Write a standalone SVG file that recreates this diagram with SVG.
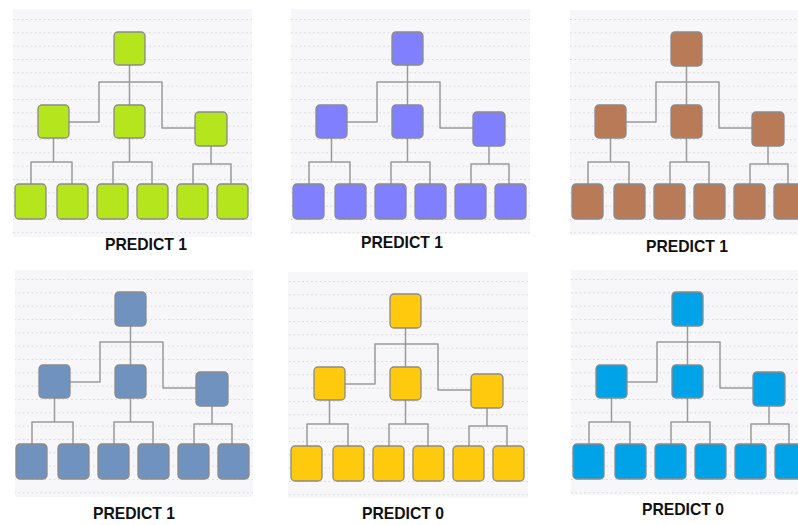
<svg xmlns="http://www.w3.org/2000/svg" xmlns:xlink="http://www.w3.org/1999/xlink" width="798" height="525" viewBox="0 0 798 525">
<style>
.bg{fill:#f7f7f9}
.dots{fill:url(#dotrows)}
.n rect{stroke:#8a8a8a;stroke-width:1.3}
.c{fill:none;stroke:#9a9a9a;stroke-width:1.5;stroke-linejoin:round}
.lbl{font-family:"Liberation Sans",Arial,sans-serif;font-weight:bold;font-size:17px;fill:#111;text-anchor:middle}
.green rect{fill:#b5e61d}
.purple rect{fill:#8080ff}
.brown rect{fill:#b97a57}
.steel rect{fill:#7092be}
.gold rect{fill:#ffc90e}
.cyan rect{fill:#00a2e8}
</style>
<defs>
<pattern id="dotrows" patternUnits="userSpaceOnUse" x="13" y="5.67" width="4.4" height="13.33">
<rect x="0" y="0" width="1.6" height="1" fill="#d6d6db"/>
</pattern>
<g id="connset">
<path d="M129.5 65V105M69 122H99V82H162V128H195"/>
<path d="M53.5 138V162M31 184V162H72V184"/>
<path d="M129.5 138V162M113 184V162H152V184"/>
<path d="M211 146V164M193 184V164H231V184"/>
</g>
</defs>

<!-- Panel 1 -->
<g id="panel1">
<rect class="bg" x="13" y="9" width="239" height="228"/>
<rect class="dots" x="13" y="9" width="239" height="228"/>
<g id="p1-connectors" class="c"><use xlink:href="#connset"/></g>
<g class="n green">
<g id="p1-root"><rect x="114" y="32" width="31" height="33" rx="4"/></g>
<g id="p1-mid1"><rect x="38" y="105" width="31" height="33" rx="4"/></g>
<g id="p1-mid2"><rect x="114" y="105" width="31" height="33" rx="4"/></g>
<g id="p1-mid3"><rect x="195" y="112" width="32" height="34" rx="4"/></g>
<g id="p1-leaf1"><rect x="15" y="184" width="31" height="35" rx="4"/></g>
<g id="p1-leaf2"><rect x="57" y="184" width="31" height="35" rx="4"/></g>
<g id="p1-leaf3"><rect x="97" y="184" width="31" height="35" rx="4"/></g>
<g id="p1-leaf4"><rect x="137" y="184" width="31" height="35" rx="4"/></g>
<g id="p1-leaf5"><rect x="177" y="184" width="31" height="35" rx="4"/></g>
<g id="p1-leaf6"><rect x="217" y="184" width="31" height="35" rx="4"/></g>
</g>
</g>
<text class="lbl" x="146" y="250" textLength="82" lengthAdjust="spacingAndGlyphs">PREDICT 1</text>

<!-- Panel 2 -->
<g id="panel2" transform="translate(278,0)">
<rect class="bg" x="13" y="9" width="239" height="225"/>
<rect class="dots" x="13" y="9" width="239" height="225"/>
<g id="p2-connectors" class="c"><use xlink:href="#connset"/></g>
<g class="n purple">
<g id="p2-root"><rect x="114" y="32" width="31" height="33" rx="4"/></g>
<g id="p2-mid1"><rect x="38" y="105" width="31" height="33" rx="4"/></g>
<g id="p2-mid2"><rect x="114" y="105" width="31" height="33" rx="4"/></g>
<g id="p2-mid3"><rect x="195" y="112" width="32" height="34" rx="4"/></g>
<g id="p2-leaf1"><rect x="15" y="184" width="31" height="35" rx="4"/></g>
<g id="p2-leaf2"><rect x="57" y="184" width="31" height="35" rx="4"/></g>
<g id="p2-leaf3"><rect x="97" y="184" width="31" height="35" rx="4"/></g>
<g id="p2-leaf4"><rect x="137" y="184" width="31" height="35" rx="4"/></g>
<g id="p2-leaf5"><rect x="177" y="184" width="31" height="35" rx="4"/></g>
<g id="p2-leaf6"><rect x="217" y="184" width="31" height="35" rx="4"/></g>
</g>
</g>
<text class="lbl" x="402" y="248" textLength="82" lengthAdjust="spacingAndGlyphs">PREDICT 1</text>

<!-- Panel 3 -->
<g id="panel3" transform="translate(557,0)">
<rect class="bg" x="13" y="10" width="239" height="225"/>
<rect class="dots" x="13" y="10" width="239" height="225"/>
<g id="p3-connectors" class="c"><use xlink:href="#connset"/></g>
<g class="n brown">
<g id="p3-root"><rect x="114" y="32" width="31" height="34" rx="4"/></g>
<g id="p3-mid1"><rect x="38" y="105" width="31" height="33" rx="4"/></g>
<g id="p3-mid2"><rect x="114" y="105" width="31" height="33" rx="4"/></g>
<g id="p3-mid3"><rect x="195" y="112" width="32" height="34" rx="4"/></g>
<g id="p3-leaf1"><rect x="15" y="184" width="31" height="35" rx="4"/></g>
<g id="p3-leaf2"><rect x="57" y="184" width="31" height="35" rx="4"/></g>
<g id="p3-leaf3"><rect x="97" y="184" width="31" height="35" rx="4"/></g>
<g id="p3-leaf4"><rect x="137" y="184" width="31" height="35" rx="4"/></g>
<g id="p3-leaf5"><rect x="177" y="184" width="31" height="35" rx="4"/></g>
<g id="p3-leaf6"><rect x="217" y="184" width="31" height="35" rx="4"/></g>
</g>
</g>
<text class="lbl" x="687" y="252" textLength="82" lengthAdjust="spacingAndGlyphs">PREDICT 1</text>

<!-- Panel 4 -->
<g id="panel4" transform="translate(1,260)">
<rect class="bg" x="14" y="10" width="238" height="227"/>
<rect class="dots" x="14" y="10" width="238" height="227"/>
<g id="p4-connectors" class="c"><use xlink:href="#connset"/></g>
<g class="n steel">
<g id="p4-root"><rect x="114" y="32" width="31" height="34" rx="4"/></g>
<g id="p4-mid1"><rect x="38" y="105" width="31" height="33" rx="4"/></g>
<g id="p4-mid2"><rect x="114" y="105" width="31" height="33" rx="4"/></g>
<g id="p4-mid3"><rect x="195" y="112" width="32" height="34" rx="4"/></g>
<g id="p4-leaf1"><rect x="15" y="184" width="31" height="35" rx="4"/></g>
<g id="p4-leaf2"><rect x="57" y="184" width="31" height="35" rx="4"/></g>
<g id="p4-leaf3"><rect x="97" y="184" width="31" height="35" rx="4"/></g>
<g id="p4-leaf4"><rect x="137" y="184" width="31" height="35" rx="4"/></g>
<g id="p4-leaf5"><rect x="177" y="184" width="31" height="35" rx="4"/></g>
<g id="p4-leaf6"><rect x="217" y="184" width="31" height="35" rx="4"/></g>
</g>
</g>
<text class="lbl" x="134" y="519" textLength="82" lengthAdjust="spacingAndGlyphs">PREDICT 1</text>

<!-- Panel 5 -->
<g id="panel5" transform="translate(276,262)">
<rect class="bg" x="12" y="10" width="240" height="226"/>
<rect class="dots" x="12" y="10" width="240" height="226"/>
<g id="p5-connectors" class="c"><use xlink:href="#connset"/></g>
<g class="n gold">
<g id="p5-root"><rect x="114" y="32" width="31" height="34" rx="4"/></g>
<g id="p5-mid1"><rect x="38" y="105" width="31" height="33" rx="4"/></g>
<g id="p5-mid2"><rect x="114" y="105" width="31" height="33" rx="4"/></g>
<g id="p5-mid3"><rect x="195" y="112" width="32" height="34" rx="4"/></g>
<g id="p5-leaf1"><rect x="15" y="184" width="31" height="35" rx="4"/></g>
<g id="p5-leaf2"><rect x="57" y="184" width="31" height="35" rx="4"/></g>
<g id="p5-leaf3"><rect x="97" y="184" width="31" height="35" rx="4"/></g>
<g id="p5-leaf4"><rect x="137" y="184" width="31" height="35" rx="4"/></g>
<g id="p5-leaf5"><rect x="177" y="184" width="31" height="35" rx="4"/></g>
<g id="p5-leaf6"><rect x="217" y="184" width="31" height="35" rx="4"/></g>
</g>
</g>
<text class="lbl" x="403" y="519" textLength="82" lengthAdjust="spacingAndGlyphs">PREDICT 0</text>

<!-- Panel 6 -->
<g id="panel6" transform="translate(558,260)">
<rect class="bg" x="13" y="10" width="240" height="225"/>
<rect class="dots" x="13" y="10" width="240" height="225"/>
<g id="p6-connectors" class="c"><use xlink:href="#connset"/></g>
<g class="n cyan">
<g id="p6-root"><rect x="114" y="32" width="31" height="34" rx="4"/></g>
<g id="p6-mid1"><rect x="38" y="105" width="31" height="33" rx="4"/></g>
<g id="p6-mid2"><rect x="114" y="105" width="31" height="33" rx="4"/></g>
<g id="p6-mid3"><rect x="195" y="112" width="32" height="34" rx="4"/></g>
<g id="p6-leaf1"><rect x="15" y="184" width="31" height="35" rx="4"/></g>
<g id="p6-leaf2"><rect x="57" y="184" width="31" height="35" rx="4"/></g>
<g id="p6-leaf3"><rect x="97" y="184" width="31" height="35" rx="4"/></g>
<g id="p6-leaf4"><rect x="137" y="184" width="31" height="35" rx="4"/></g>
<g id="p6-leaf5"><rect x="177" y="184" width="31" height="35" rx="4"/></g>
<g id="p6-leaf6"><rect x="217" y="184" width="31" height="35" rx="4"/></g>
</g>
</g>
<text class="lbl" x="683" y="515" textLength="82" lengthAdjust="spacingAndGlyphs">PREDICT 0</text>
</svg>
